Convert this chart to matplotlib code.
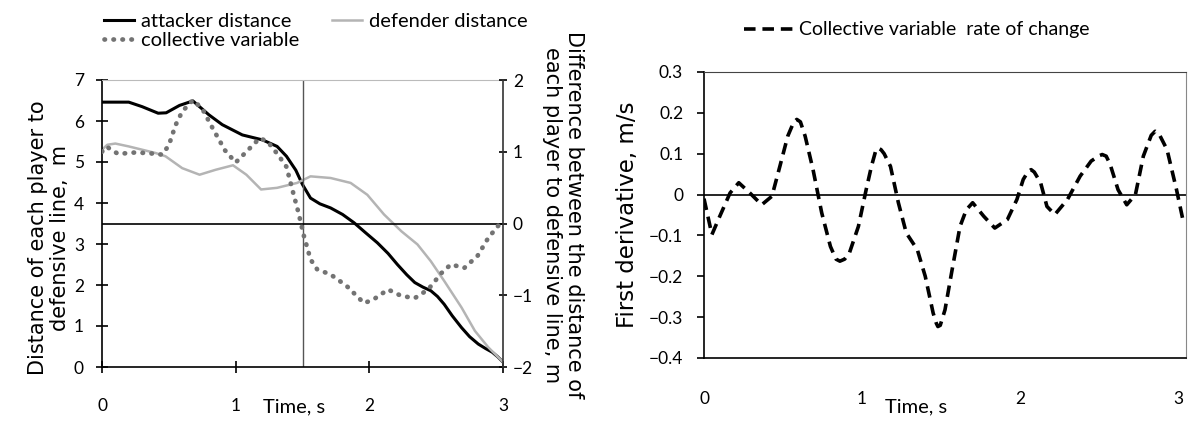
import numpy as np
import matplotlib
matplotlib.use("Agg")
import matplotlib.pyplot as plt

# ---- left panel: distances to the defensive line (m) ----
t_att = [0.0, 0.1, 0.2, 0.3, 0.42, 0.48, 0.58, 0.68, 0.8, 0.9, 1.05, 1.2, 1.31, 1.38,
         1.45, 1.5, 1.56, 1.63, 1.71, 1.8, 1.885, 1.97, 2.06, 2.14, 2.21, 2.28, 2.34,
         2.4, 2.46, 2.51, 2.56, 2.62, 2.69, 2.75, 2.815, 2.87, 2.92, 2.96, 3.0]
attacker = [6.46, 6.46, 6.46, 6.35, 6.19, 6.2, 6.38, 6.49, 6.15, 5.91, 5.66, 5.54, 5.38, 5.14,
            4.8, 4.45, 4.12, 3.98, 3.88, 3.72, 3.52, 3.28, 3.03, 2.77, 2.5, 2.25, 2.06,
            1.95, 1.86, 1.72, 1.53, 1.25, 0.96, 0.74, 0.56, 0.45, 0.36, 0.25, 0.12]

t_def = [0.0, 0.04, 0.1, 0.2, 0.3, 0.4, 0.475, 0.6, 0.73, 0.85, 0.98, 1.08, 1.19, 1.31,
         1.46, 1.56, 1.71, 1.86, 1.985, 2.11, 2.24, 2.36, 2.46, 2.56, 2.69, 2.79, 2.89, 3.0]
defender = [5.3, 5.42, 5.45, 5.38, 5.3, 5.22, 5.14, 4.85, 4.69, 4.81, 4.92, 4.69, 4.33, 4.37,
            4.49, 4.65, 4.61, 4.49, 4.2, 3.72, 3.31, 2.99, 2.58, 2.1, 1.45, 0.88, 0.48, 0.12]

# collective variable (right axis, m)
t_col = [0.0, 0.035, 0.12, 0.25, 0.35, 0.45, 0.5, 0.55, 0.6, 0.68, 0.75, 0.83, 0.92, 1.0,
         1.08, 1.18, 1.24, 1.32, 1.38, 1.43, 1.47, 1.51, 1.56, 1.61, 1.71, 1.83, 1.96,
         2.03, 2.14, 2.24, 2.34, 2.44, 2.54, 2.61, 2.71, 2.81, 2.89, 2.965, 3.0]
collective = [1.0, 1.07, 0.97, 0.99, 0.98, 0.96, 1.09, 1.37, 1.56, 1.72, 1.6, 1.32, 1.02, 0.85,
              1.0, 1.19, 1.14, 0.95, 0.79, 0.43, 0.15, -0.17, -0.5, -0.64, -0.71, -0.87, -1.11,
              -1.06, -0.92, -1.01, -1.04, -0.92, -0.69, -0.57, -0.62, -0.45, -0.2, -0.03, 0.0]

# ---- right panel: first derivative of the collective variable (m/s) ----
t_der = [0.0, 0.05, 0.10, 0.165, 0.22, 0.29, 0.365, 0.43, 0.48, 0.53, 0.565, 0.587, 0.61,
         0.64, 0.69, 0.745, 0.80, 0.835, 0.86, 0.89, 0.92, 0.977, 1.025, 1.06, 1.085, 1.10,
         1.12, 1.14, 1.18, 1.23, 1.28, 1.35, 1.40, 1.45, 1.47, 1.48, 1.495, 1.525, 1.57,
         1.62, 1.66, 1.70, 1.77, 1.84, 1.92, 1.98, 2.02, 2.05, 2.07, 2.09, 2.13, 2.17,
         2.22, 2.30, 2.38, 2.45, 2.50, 2.52, 2.545, 2.57, 2.62, 2.675, 2.73, 2.78, 2.83,
         2.855, 2.88, 2.93, 2.99, 3.03]
derivative = [-0.01, -0.098, -0.053, 0.004, 0.029, 0.004, -0.025, -0.004, 0.069, 0.143, 0.175,
              0.184, 0.178, 0.143, 0.061, -0.045, -0.127, -0.158, -0.163, -0.158, -0.143,
              -0.078, 0.01, 0.07, 0.105, 0.114, 0.11, 0.1, 0.069, -0.02, -0.094, -0.135, -0.2,
              -0.29, -0.315, -0.323, -0.32, -0.282, -0.184, -0.078, -0.037, -0.02, -0.053,
              -0.082, -0.061, -0.012, 0.037, 0.056, 0.061, 0.055, 0.029, -0.029, -0.049,
              -0.012, 0.045, 0.082, 0.095, 0.098, 0.094, 0.074, 0.012, -0.025, 0.0, 0.094,
              0.145, 0.155, 0.148, 0.11, 0.012, -0.061]

TICK_FONT = "Lato"
LABEL_FONT = "DejaVu Sans"
W, H = 1192, 430

fig = plt.figure(figsize=(W / 100, H / 100), dpi=100)
fig.patch.set_facecolor("white")


def box(l, t, r, b):
    # pixel box -> figure fraction
    return [l / W, 1 - b / H, (r - l) / W, (b - t) / H]


# ================= left panel =================
ax1 = fig.add_axes(box(102, 80, 503, 367))
ax2 = ax1.twinx()

l_att, = ax1.plot(t_att, attacker, color="black", lw=2.2, label="attacker distance")
l_def, = ax1.plot(t_def, defender, color="#b4b4b4", lw=1.8, label="defender distance")
ax1.axvline(1.5, color="#555555", lw=1.0)

ax2.axhline(0, color="black", lw=1.2)
l_col, = ax2.plot(t_col, collective, color="#737373", lw=3.4,
                  linestyle=(0, (0.1, 1.8)), dash_capstyle="round", label="collective variable")

ax1.set_xlim(0, 3)
ax1.set_ylim(0, 7)
ax2.set_ylim(-2, 2)
ax1.set_xticks([0, 1, 2, 3])
ax1.set_yticks(range(0, 8))
ax2.set_yticks([-2, -1, 0, 1, 2])

for ax in (ax1, ax2):
    for lab in ax.get_xticklabels() + ax.get_yticklabels():
        lab.set_fontfamily(TICK_FONT)
        lab.set_fontsize(12.5)
ax1.tick_params(axis="x", direction="inout", length=8, width=1.2, pad=18)
ax1.tick_params(axis="y", direction="inout", length=8, width=1.2, pad=9)
ax2.tick_params(axis="y", direction="inout", length=6, width=1.2, pad=4)

ax1.spines["top"].set_color("#bbbbbb")
ax1.spines["left"].set_linewidth(1.2)
ax1.spines["bottom"].set_linewidth(1.2)
ax1.spines["right"].set_visible(False)
ax2.spines["top"].set_visible(False)
ax2.spines["left"].set_visible(False)
ax2.spines["bottom"].set_visible(False)
ax2.spines["right"].set_color("#333333")
ax2.spines["right"].set_linewidth(1.2)

ax1.set_xlabel("Time, s", fontfamily=TICK_FONT, fontsize=14.5)
ax1.xaxis.set_label_coords(0.48, -0.11)
ax1.set_ylabel("Distance of each player to\ndefensive line,  m",
               fontfamily=LABEL_FONT, fontsize=15, linespacing=1.15)
ax1.yaxis.set_label_coords(-0.08, 0.45)
ax2.set_ylabel("Difference between the distance of\neach player to defensive line, m",
               fontfamily=LABEL_FONT, fontsize=15, linespacing=1.12,
               rotation=270, va="bottom")
ax2.yaxis.set_label_coords(1.098, 0.53)

fig.legend(handles=[l_att, l_col, l_def], loc="upper left",
           bbox_to_anchor=(86 / W, 1 + 5 / H), ncol=2, frameon=False,
           prop={"family": TICK_FONT, "size": 14.5}, handlelength=1.5,
           handletextpad=0.35, columnspacing=1.6, labelspacing=0.08)

# ================= right panel =================
ax3 = fig.add_axes(box(704, 72, 1186, 358))
ax3.axhline(0, color="black", lw=1.2)
l_der, = ax3.plot(t_der, derivative, color="black", lw=2.6,
                  linestyle=(0, (3.2, 1.9)), label="Collective variable  rate of change")
ax3.set_xlim(0, 3.05)
ax3.set_ylim(-0.4, 0.3)
ax3.set_xticks([0, 1, 2, 3])
ax3.set_yticks([-0.4, -0.3, -0.2, -0.1, 0, 0.1, 0.2, 0.3])
ax3.set_yticklabels(["\u22120.4", "\u22120.3", "\u22120.2", "\u22120.1", "0", "0.1", "0.2", "0.3"])
for lab in ax3.get_xticklabels() + ax3.get_yticklabels():
    lab.set_fontfamily(TICK_FONT)
    lab.set_fontsize(12.5)
ax3.tick_params(axis="x", length=0, pad=24)
ax3.tick_params(axis="y", direction="out", length=5, width=1.2, pad=10)
ax3.spines["top"].set_color("#444444")
ax3.spines["right"].set_color("#888888")
ax3.spines["left"].set_linewidth(1.2)
ax3.spines["bottom"].set_linewidth(1.2)

ax3.set_xlabel("Time, s", fontfamily=TICK_FONT, fontsize=14.5)
ax3.xaxis.set_label_coords(0.44, -0.14)
ax3.set_ylabel("First derivative, m/s", fontfamily=LABEL_FONT, fontsize=16.5)
ax3.yaxis.set_label_coords(-0.135, 0.5)

fig.legend(handles=[l_der], loc="upper left", bbox_to_anchor=(726 / W, 1 - 4 / H),
           frameon=False, prop={"family": TICK_FONT, "size": 14},
           handlelength=2.7, handletextpad=0.15)

fig.savefig("out.png", dpi=100, facecolor="white")
